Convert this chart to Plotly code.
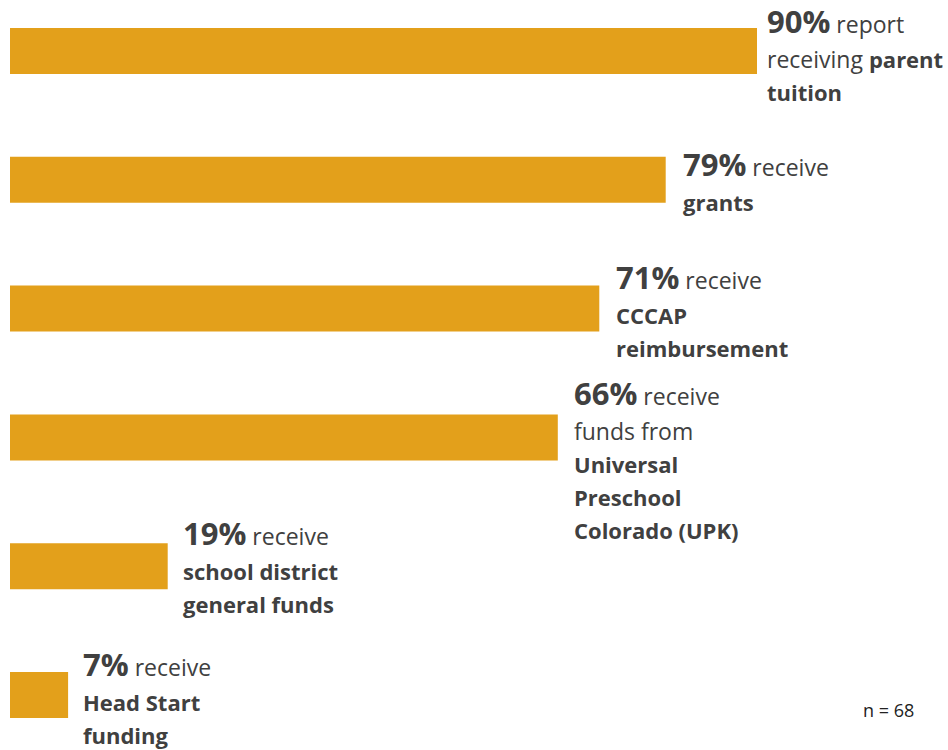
import plotly.graph_objects as go

categories = ["parent tuition", "grants", "CCCAP reimbursement",
              "Universal Preschool Colorado (UPK)", "school district general funds",
              "Head Start funding"]
values = [90, 79, 71, 66, 19, 7]
lead_words = ["report", "receive", "receive", "receive", "receive", "receive"]
# each extra line: list of (text, bold) segments
extra_lines = [
    [[("receiving ", False), ("parent", True)], [("tuition", True)]],
    [[("grants", True)]],
    [[("CCCAP", True)], [("reimbursement", True)]],
    [[("funds from", False)], [("Universal", True)], [("Preschool", True)],
     [("Colorado (UPK)", True)]],
    [[("school district", True)], [("general funds", True)]],
    [[("Head Start", True)], [("funding", True)]],
]
note = "n = 68"

# layout-only offsets (pixels) for the hand-placed labels
label_dx = [8, 15, 15, 14, 13, 13]
label_base = [-18, -4, -20, -32, -21, -19]   # first-line baseline vs bar centre
FIRST_GAP = 35
LINE_GAP = 33

BAR = "#E3A01B"
TXT = "#404040"
FONT = "Open Sans"
SMALL = 23
BOLD = 22
BIG = 31

ypos = list(range(len(categories)))
fig = go.Figure(go.Bar(
    x=values, y=ypos, orientation="h", width=0.357,
    marker=dict(color=BAR, line=dict(width=0)),
    hovertext=categories, hoverinfo="text+x",
))


def add_line(x, y, text, dx, baseline, size):
    centre = baseline - 0.39 * size
    fig.add_annotation(
        x=x, y=y, xref="x", yref="y", text=text, showarrow=False,
        xanchor="left", yanchor="middle", align="left",
        xshift=dx, yshift=-centre,
        font=dict(family=FONT, size=SMALL, color=TXT),
    )


def fmt(segments):
    out = []
    for t, b in segments:
        if b:
            out.append(f"<span style='font-size:{BOLD}px'><b>{t}</b></span>")
        else:
            out.append(t)
    return "".join(out)


for i, v in enumerate(values):
    first = f"<span style='font-size:{BIG}px'><b>{v}%</b></span> {lead_words[i]}"
    add_line(v, i, first, label_dx[i], label_base[i], BIG)
    for k, segs in enumerate(extra_lines[i]):
        b = label_base[i] + FIRST_GAP + LINE_GAP * k
        add_line(v, i, fmt(segs), label_dx[i], b, SMALL)

fig.add_annotation(
    x=1, y=0, xref="paper", yref="paper", text=note, showarrow=False,
    xanchor="right", yanchor="middle", xshift=-32, yshift=40,
    font=dict(family=FONT, size=18, color="#222222"),
)

fig.update_layout(
    width=948, height=750,
    margin=dict(l=10, r=0, t=0, b=0),
    paper_bgcolor="white", plot_bgcolor="white",
    showlegend=False,
    xaxis=dict(range=[0, 938 / 8.3], visible=False, fixedrange=True),
    yaxis=dict(range=[5.427, -0.396], visible=False, fixedrange=True),
    font=dict(family=FONT, color=TXT),
)

fig.write_html("out.html")
